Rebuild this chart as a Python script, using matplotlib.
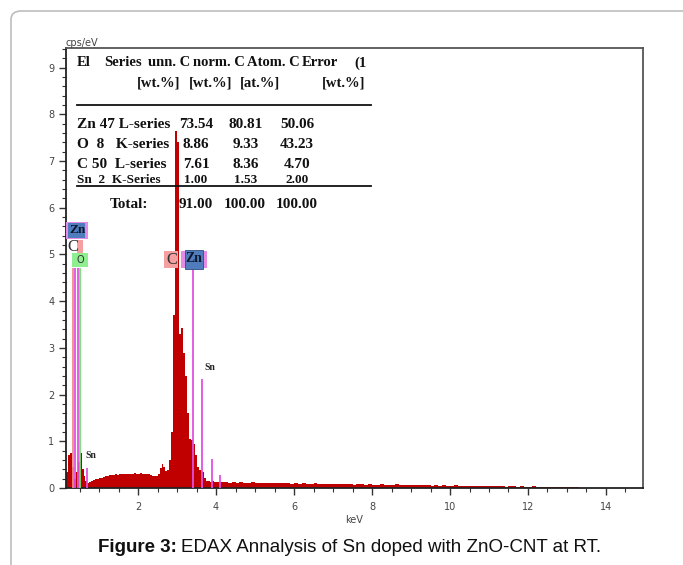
import numpy as np
import matplotlib
matplotlib.use("Agg")
import matplotlib.pyplot as plt
from matplotlib.ticker import MultipleLocator
from matplotlib.patches import FancyBboxPatch, Rectangle

# spectrum counts (cps/eV), fine bins of 0.05 keV starting at 0.15 keV
counts_fine = [
    0.35, 0.70, 0.75, 0.45, 0.20, 0.35, 0.55, 0.75, 0.40, 0.25,
    0.15, 0.10, 0.12, 0.16, 0.17, 0.19, 0.20, 0.21, 0.22, 0.24,
    0.25, 0.26, 0.27, 0.28, 0.27, 0.29, 0.28, 0.29, 0.30, 0.29,
    0.30, 0.29, 0.31, 0.30, 0.30, 0.32, 0.31, 0.30, 0.32, 0.31,
    0.30, 0.31, 0.29, 0.28, 0.26, 0.25, 0.26, 0.30, 0.42, 0.52,
    0.45, 0.36, 0.38, 0.60, 1.20, 3.70, 7.65, 7.40, 3.30, 3.42,
    2.90, 2.40, 1.60, 1.05, 1.02, 0.95, 0.70, 0.45, 0.38, 0.36,
    0.34, 0.22, 0.16, 0.14, 0.13, 0.14, 0.12, 0.13, 0.12, 0.13,
    0.12,
]
# coarse bins of 0.1 keV starting at 4.2 keV
counts_coarse = [
    0.12, 0.11, 0.12, 0.11, 0.12, 0.11, 0.11, 0.12, 0.11, 0.10,
    0.11, 0.10, 0.11, 0.10, 0.10, 0.11, 0.10, 0.09, 0.10, 0.09,
    0.10, 0.09, 0.09, 0.10, 0.09, 0.08, 0.09, 0.08, 0.09, 0.08,
    0.08, 0.09, 0.08, 0.07, 0.08, 0.08, 0.07, 0.08, 0.07, 0.07,
    0.08, 0.07, 0.06, 0.07, 0.09, 0.07, 0.06, 0.07, 0.06, 0.06,
    0.07, 0.06, 0.06, 0.05, 0.06, 0.05, 0.06, 0.05, 0.05, 0.06,
    0.05, 0.05, 0.04, 0.05, 0.05, 0.04, 0.05, 0.04, 0.04, 0.05,
    0.04, 0.04, 0.03, 0.04, 0.04, 0.03, 0.04, 0.03, 0.03, 0.04,
    0.03, 0.03, 0.03, 0.02, 0.03, 0.03, 0.02, 0.03, 0.02, 0.02,
    0.02, 0.01, 0.00, 0.01, 0.00, 0.01, 0.00, 0.01, 0.00, 0.01,
    0.00, 0.01, 0.00, 0.00, 0.00, 0.00, 0.00, 0.00,
]

# element marker lines (keV, height, colour)
line_kev = [0.32, 0.37, 0.47, 0.52, 0.69, 3.42, 3.64, 3.89, 4.10]
line_top = [4.70, 4.70, 4.70, 4.70, 0.43, 4.70, 2.33, 0.62, 0.27]
line_col = ["#f08a8a", "#e050e0", "#e050e0", "#70e070", "#e050e0",
            "#e050e0", "#e050e0", "#e050e0", "#e050e0"]

# quantification table
table_header = ["El", "Series", "unn. C", "norm. C", "Atom. C", "Error", "(1"]
table_units = ["[wt.%]", "[wt.%]", "[at.%]", "[wt.%]"]
table_rows = [
    ["Zn 47 L-series", "73.54", "80.81", "50.06"],
    ["O  8   K-series", "8.86", "9.33", "43.23"],
    ["C 50  L-series", "7.61", "8.36", "4.70"],
    ["Sn  2  K-Series", "1.00", "1.53", "2.00"],
]
table_total = ["Total:", "91.00", "100.00", "100.00"]

W, H = 683, 565


def fx(x):
    return x / W


def fy(y):
    return 1 - y / H


def box(x0, y0, w, h, fc, z=4, **kw):
    fig.patches.append(Rectangle((fx(x0), fy(y0 + h)), fx(w), h / H, transform=fig.transFigure,
                                 facecolor=fc, edgecolor=kw.get("ec", "none"),
                                 linewidth=kw.get("lw", 0), zorder=z))


fig = plt.figure(figsize=(6.83, 5.65), dpi=100)

# light rounded frame around the figure
frame = FancyBboxPatch((fx(11), fy(600)), fx(720), (600 - 11) / H,
                       boxstyle="round,pad=0,rounding_size=0.015",
                       transform=fig.transFigure, fill=False, edgecolor="#bdbdbd", linewidth=1.2)
fig.patches.append(frame)

ax = fig.add_axes([fx(66), fy(488), fx(643 - 66), (488 - 48) / H])

edges_fine = 0.15 + 0.05 * np.arange(len(counts_fine) + 1)
edges_coarse = 4.2 + 0.1 * np.arange(1, len(counts_coarse) + 1)
edges = np.concatenate([edges_fine, edges_coarse])
counts = np.array(counts_fine + counts_coarse)
ax.stairs(counts, edges, fill=True, color="#c00000", zorder=2)

ax.vlines(line_kev, 0, line_top, colors=line_col, linewidth=1.3, zorder=3)

ax.set_xlim(0.15, 14.95)
ax.set_ylim(0, 9.42)
ax.xaxis.set_major_locator(MultipleLocator(2))
ax.xaxis.set_minor_locator(MultipleLocator(0.5))
ax.yaxis.set_major_locator(MultipleLocator(1))
ax.yaxis.set_minor_locator(MultipleLocator(0.2))
ax.tick_params(which="both", direction="out", labelsize=7, labelcolor="#444444", color="#333333")
ax.tick_params(which="major", length=5, width=1)
ax.tick_params(which="minor", length=3, width=0.8)
ax.tick_params(axis="x", pad=5)
for s in ax.spines.values():
    s.set_linewidth(1.3)
    s.set_color("#555555")
ax.spines["left"].set_color("#222222")
ax.spines["bottom"].set_color("#222222")
ax.set_xlabel("keV", fontsize=7, color="#444444", labelpad=2)
fig.text(fx(66), fy(43), "cps/eV", fontsize=7, color="#444444", ha="left", va="center")

# peak label boxes, left group
box(66, 222, 22, 17, "#e58ae5")
box(68, 223, 17, 15, "#4f7cbd", z=5)
box(77, 240, 6, 15, "#f4a0a0")
box(72, 253, 16, 14, "#8fee8f")
# middle group
box(164, 251, 14, 17, "#f4a0a0")
box(181, 251, 26, 17, "#e58ae5")
box(185, 250, 18, 19, "#4f7cbd", z=5, ec="#2f4f80", lw=0.6)

serif = "Liberation Serif"
fig.text(fx(77), fy(230), "Zn", family=serif, fontsize=9.5, weight="bold", color="#101830",
         ha="center", va="center", zorder=6)
fig.text(fx(72.5), fy(247), "C", family=serif, fontsize=12, color="#333333", ha="center", va="center", zorder=6)
fig.text(fx(80), fy(260), "O", fontsize=7, color="#333333", ha="center", va="center", zorder=6)
fig.text(fx(172), fy(260), "C", family=serif, fontsize=12, color="#333333", ha="center", va="center", zorder=6)
fig.text(fx(194), fy(259), "Zn", family=serif, fontsize=10, weight="bold", color="#101830",
         ha="center", va="center", zorder=6)
fig.text(fx(204), fy(368), "Sn", family=serif, fontsize=7, weight="bold", color="#222222", ha="left", va="center")
fig.text(fx(85), fy(455), "Sn", family=serif, fontsize=7, weight="bold", color="#222222", ha="left", va="center")

# quantification table
tkw = dict(family=serif, fontsize=11, weight="bold", color="#111111", va="center")
hkw = dict(tkw, fontsize=10.5)
for x, t in zip([77, 104, 148, 193, 247, 302, 354], table_header):
    fig.text(fx(x), fy(63), t, ha="left", **hkw)
for x, t in zip([137, 189, 240, 322], table_units):
    fig.text(fx(x), fy(83), t, ha="left", **hkw)

row_y = [125, 144, 164, 180]
for y, row in zip(row_y, table_rows):
    kw = dict(tkw, fontsize=11 if y < 175 else 9.5)
    fig.text(fx(77), fy(y), row[0], ha="left", **kw)
    fig.text(fx(196), fy(y), row[1], ha="center", **kw)
    fig.text(fx(246), fy(y), row[2], ha="center", **kw)
    fig.text(fx(297), fy(y), row[3], ha="center", **kw)
fig.text(fx(110), fy(205), table_total[0], ha="left", **tkw)
fig.text(fx(196), fy(205), table_total[1], ha="center", **tkw)
fig.text(fx(245), fy(205), table_total[2], ha="center", **tkw)
fig.text(fx(297), fy(205), table_total[3], ha="center", **tkw)

for y in (105, 186):
    fig.add_artist(plt.Line2D([fx(77), fx(371)], [fy(y), fy(y)], transform=fig.transFigure,
                              color="#111111", linewidth=1.3))

# caption
cap_y = fy(548)
t1 = fig.text(fx(98), cap_y, "Figure 3:", family="Liberation Sans", fontsize=13.5, weight="bold",
              color="#111111", ha="left", va="center")
fig.canvas.draw()
bb = t1.get_window_extent()
fig.text(bb.x1 / W + fx(4), cap_y, "EDAX Annalysis of Sn doped with ZnO-CNT at RT.",
         family="Liberation Sans", fontsize=13.5, color="#111111", ha="left", va="center")

fig.savefig("out.png", dpi=100)
